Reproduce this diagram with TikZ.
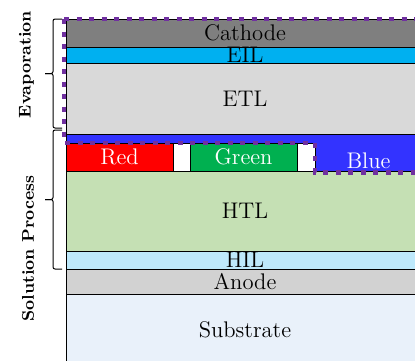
\documentclass[tikz,border=0pt]{standalone}
\usepackage{xcolor}
\usepackage{tikz}
\usetikzlibrary{positioning,calc}

\definecolor{cathodegray}{RGB}{127,127,127}
\definecolor{eilblue}{RGB}{0,176,240}
\definecolor{etlgray}{RGB}{217,217,217}
\definecolor{emblue}{RGB}{51,51,255}
\definecolor{pixred}{RGB}{255,0,0}
\definecolor{pixgreen}{RGB}{0,176,80}
\definecolor{htlgreen}{RGB}{197,224,180}
\definecolor{hilblue}{RGB}{190,233,251}
\definecolor{anodegray}{RGB}{210,210,210}
\definecolor{substrateblue}{RGB}{233,241,250}
\definecolor{outlinepurple}{RGB}{112,48,160}

\begin{document}
\begin{tikzpicture}[
    font=\fontsize{11.3}{13}\selectfont,
    layer/.style={rectangle, draw=black, line width=0.5pt, inner sep=0pt, outer sep=0pt, minimum width=179pt, text centered},
    pixel/.style={rectangle, draw=black, line width=0.5pt, inner sep=0pt, outer sep=0pt, minimum width=53.5pt, minimum height=14pt, text=white},
    bank/.style={pixel, fill=white, minimum width=8.5pt},
    process/.style={font=\fontsize{8.5}{10}\selectfont\bfseries, rotate=90},
    bracket/.style={draw=black, line width=0.5pt, rounded corners=1pt},
    outline/.style={draw=outlinepurple, line width=2.2pt, dash pattern=on 2.5pt off 3.75pt}
]
    \useasboundingbox (0,0) rectangle (207.5pt,180pt);

    % Device stack, top to bottom
    \node[layer, fill=cathodegray, minimum height=14pt, anchor=north west] (cathode) at (33pt,170.5pt) {Cathode};
    \node[layer, fill=eilblue, minimum height=8pt, below=0pt of cathode] (eil) {EIL};
    \node[layer, fill=etlgray, minimum height=35.5pt, below=0pt of eil] (etl) {ETL};
    \node[layer, fill=emblue, minimum height=18.5pt, below=0pt of etl] (eml) {};
    \node[layer, fill=htlgreen, minimum height=40pt, below=0pt of eml] (htl) {HTL};
    \node[layer, fill=hilblue, minimum height=9pt, below=0pt of htl] (hil) {HIL};
    \node[layer, fill=anodegray, minimum height=12.5pt, below=0pt of hil] (anode) {Anode};
    \node[layer, fill=substrateblue, minimum height=35.5pt, below=0pt of anode] (substrate) {Substrate};

    % Sub-pixels and banks
    \node[pixel, fill=pixred, anchor=south west] (redpix) at (eml.south west) {Red};
    \node[bank, right=0pt of redpix] (bank1) {};
    \node[pixel, fill=pixgreen, right=0pt of bank1] (greenpix) {Green};
    \node[bank, minimum width=9pt, right=0pt of greenpix] (bank2) {};
    \node[pixel, draw=none, right=0pt of bank2, yshift=-2pt] (bluepix) {Blue};

    % Evaporated region
    \draw[outline] ([xshift=-1pt]cathode.north west) -- ([xshift=8pt]cathode.north east);
    \draw[outline] ([xshift=-1pt]cathode.north west) -- ([xshift=-1pt]redpix.north west)
        -- (bank2.north east) -- ([yshift=-0.75pt]bank2.south east) -- ([xshift=8pt, yshift=-0.75pt]eml.south east);

    % Brackets
    \coordinate (evaptop) at ([xshift=-2pt]cathode.north west);
    \coordinate (evapbot) at ([xshift=-2pt, yshift=3pt]etl.south west);
    \coordinate (soltop) at ([xshift=-2pt, yshift=2pt]etl.south west);
    \coordinate (solbot) at ([xshift=-2pt]hil.south west);
    \coordinate (evapmid) at ($(evaptop)!0.5!(evapbot)$);
    \coordinate (solmid) at ($(soltop)!0.5!(solbot)$);
    \draw[bracket] (evaptop) -- ++(-4.5pt,0) |- ([xshift=-8.5pt]evapmid);
    \draw[bracket] (evapbot) -- ++(-4.5pt,0) |- ([xshift=-8.5pt]evapmid);
    \draw[bracket] (soltop) -- ++(-4.5pt,0) |- ([xshift=-8.5pt]solmid);
    \draw[bracket] (solbot) -- ++(-4.5pt,0) |- ([xshift=-8.5pt]solmid);

    \node[process] (evap) at (13.25pt,147.75pt) {Evaporation};
    \node[process] (solution) at (14pt,55.75pt) {Solution Process};
\end{tikzpicture}
\end{document}
